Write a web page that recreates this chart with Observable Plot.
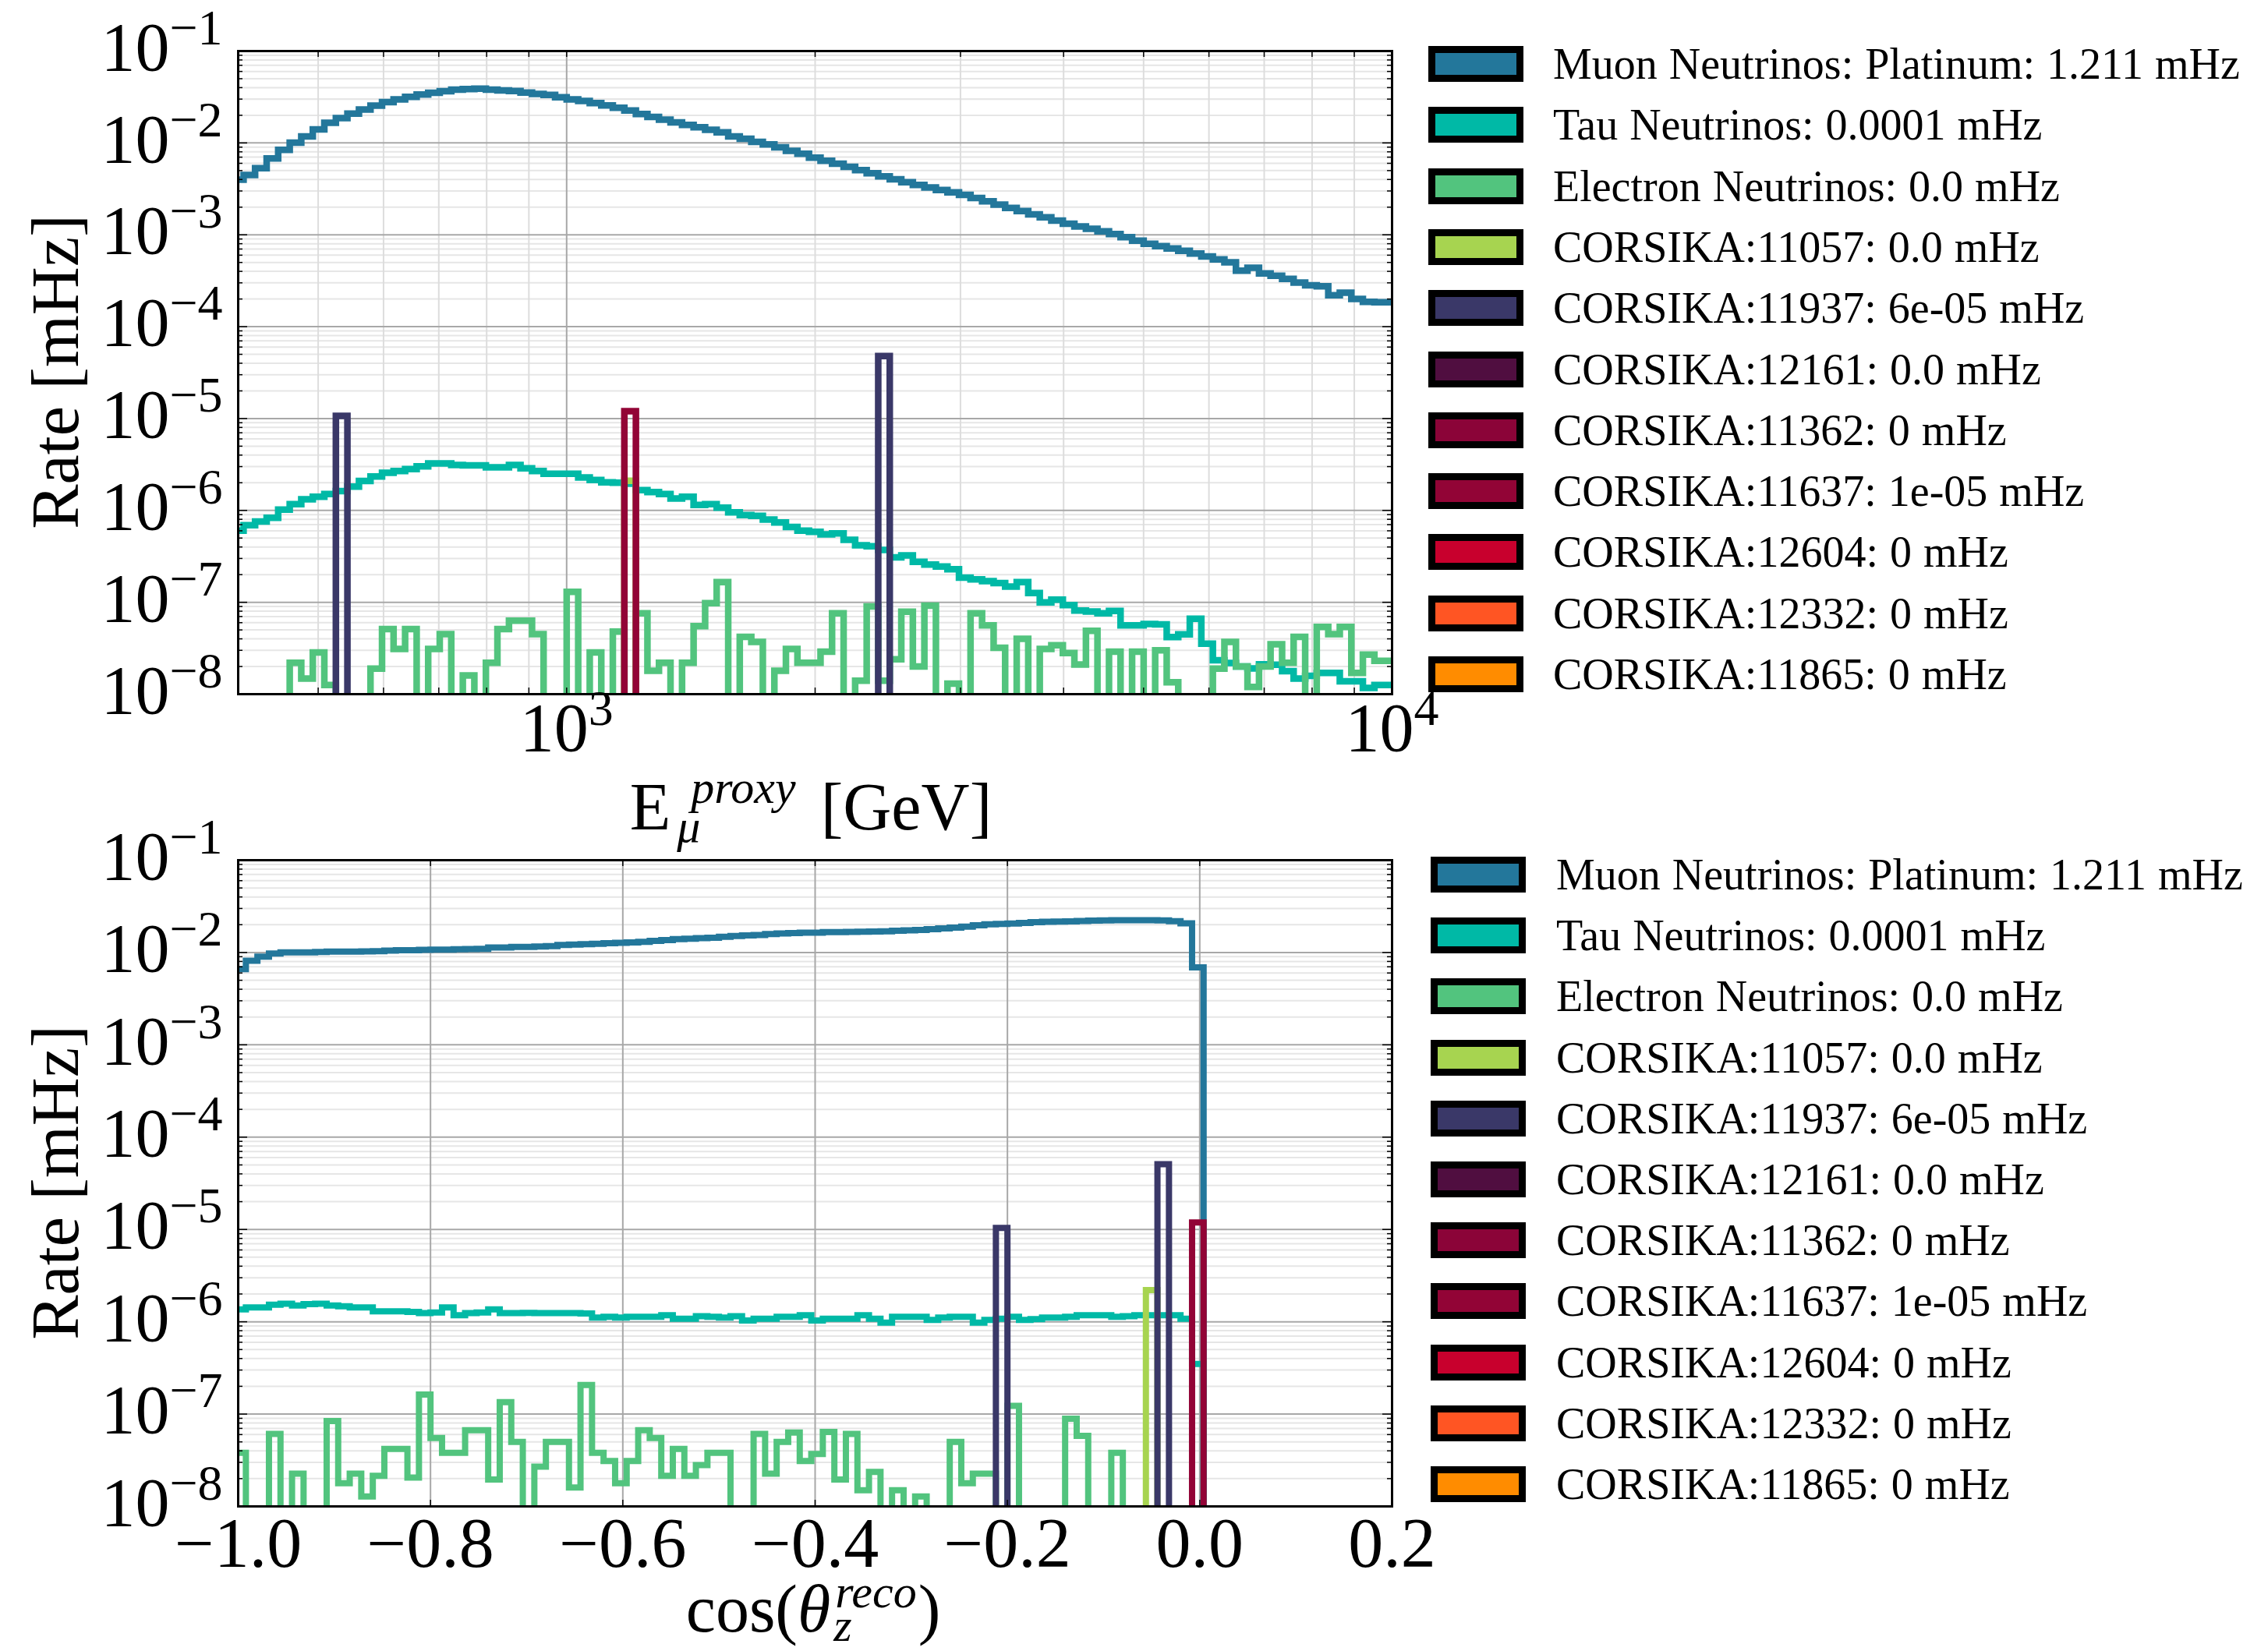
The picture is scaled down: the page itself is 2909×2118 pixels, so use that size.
<!DOCTYPE html>
<html>
<head>
<meta charset="utf-8">
<script src="https://cdn.jsdelivr.net/npm/d3@7"></script>
<script src="https://cdn.jsdelivr.net/npm/@observablehq/plot@0.6"></script>
<style>
  html, body { margin: 0; padding: 0; background: #fff; }
  #fig { position: relative; width: 2909px; height: 2118px; overflow: hidden; background: #fff;
         font-family: "Liberation Serif", "DejaVu Serif", serif; color: #000; }
  .legend { position: absolute; }
  .row { position: absolute; left: 0; height: 46px; display: flex; align-items: center; white-space: nowrap; }
  .sw { width: 122px; height: 46px; box-sizing: border-box; border: 9px solid #000; flex: none; }
  .lt { font-size: 56px; line-height: 1; word-spacing: 1px; }
</style>
</head>
<body>
<div id="fig"></div>
<script>
// ------------------------------------------------------------------ data
const SERIES_NAMES = ["Muon Neutrinos: Platinum", "Tau Neutrinos", "Electron Neutrinos",
  "CORSIKA:11057", "CORSIKA:11937", "CORSIKA:12161", "CORSIKA:11362", "CORSIKA:11637",
  "CORSIKA:12604", "CORSIKA:12332", "CORSIKA:11865"];
const SERIES_RATES = ["1.211 mHz", "0.0001 mHz", "0.0 mHz", "0.0 mHz", "6e-05 mHz", "0.0 mHz",
  "0 mHz", "1e-05 mHz", "0 mHz", "0 mHz", "0 mHz"];
const SERIES_COLORS = ["#23779b", "#00b9a6", "#52c47e", "#a7d450", "#3a3868", "#500e40",
  "#8b0438", "#920436", "#c8002d", "#ff5523", "#ff8c00"];

const RATE_DOMAIN = [1e-8, 1e-1];
const RATE_TICK_EXP = [-8, -7, -6, -5, -4, -3, -2, -1];

// Energy panel (log-spaced bins)
const E_DOMAIN = [400, 10000];
const E_BIN_LOG0 = 2.5946;
const E_BIN_DLOG = 0.01398;
const E_TICK_EXP = [3, 4];
const E_GRID_MAJOR = [1000];
const E_GRID_MINOR = [500, 600, 700, 800, 900, 2000, 3000, 4000, 5000, 6000, 7000, 8000, 9000];

const MUON_E = [
  3.98e-3, 4.47e-3, 5.31e-3, 6.79e-3, 8.39e-3, 1.007e-2, 1.175e-2, 1.403e-2, 1.656e-2, 1.866e-2,
  2.084e-2, 2.307e-2, 2.547e-2, 2.780e-2, 2.979e-2, 3.177e-2, 3.365e-2, 3.516e-2, 3.656e-2, 3.802e-2,
  3.864e-2, 3.890e-2, 3.802e-2, 3.733e-2, 3.681e-2, 3.540e-2, 3.420e-2, 3.327e-2, 3.148e-2, 2.985e-2,
  2.858e-2, 2.716e-2, 2.559e-2, 2.410e-2, 2.249e-2, 2.061e-2, 1.919e-2, 1.795e-2, 1.675e-2, 1.574e-2,
  1.479e-2, 1.393e-2, 1.303e-2, 1.175e-2, 1.109e-2, 1.026e-2, 9.64e-3, 8.97e-3, 8.22e-3, 7.64e-3,
  6.92e-3, 6.40e-3, 5.93e-3, 5.50e-3, 5.06e-3, 4.67e-3, 4.32e-3, 4.02e-3, 3.74e-3, 3.49e-3,
  3.27e-3, 3.08e-3, 2.90e-3, 2.72e-3, 2.51e-3, 2.31e-3, 2.13e-3, 1.96e-3, 1.81e-3, 1.67e-3,
  1.55e-3, 1.43e-3, 1.32e-3, 1.23e-3, 1.16e-3, 1.09e-3, 1.02e-3, 9.44e-4, 8.65e-4, 8.00e-4,
  7.53e-4, 7.10e-4, 6.68e-4, 6.24e-4, 5.81e-4, 5.41e-4, 5.01e-4, 4.07e-4, 4.37e-4, 3.80e-4,
  3.58e-4, 3.31e-4, 3.02e-4, 2.82e-4, 2.75e-4, 2.20e-4, 2.34e-4, 2.00e-4, 1.86e-4, 1.84e-4,
  1.84e-4];
const TAU_E = [
  6.03e-7, 6.92e-7, 7.59e-7, 8.32e-7, 1.02e-6, 1.17e-6, 1.32e-6, 1.41e-6, 1.51e-6, 1.62e-6,
  1.82e-6, 2.09e-6, 2.34e-6, 2.57e-6, 2.69e-6, 2.82e-6, 3.02e-6, 3.24e-6, 3.24e-6, 3.13e-6,
  3.09e-6, 3.09e-6, 2.95e-6, 2.95e-6, 3.13e-6, 2.88e-6, 2.69e-6, 2.51e-6, 2.51e-6, 2.51e-6,
  2.29e-6, 2.14e-6, 2.02e-6, 2.00e-6, 1.95e-6, 1.66e-6, 1.58e-6, 1.51e-6, 1.35e-6, 1.41e-6,
  1.15e-6, 1.17e-6, 1.07e-6, 9.55e-7, 8.91e-7, 8.71e-7, 7.94e-7, 7.41e-7, 6.61e-7, 6.03e-7,
  5.85e-7, 5.50e-7, 5.62e-7, 4.79e-7, 4.17e-7, 4.07e-7, 3.72e-7, 3.09e-7, 3.24e-7, 2.75e-7,
  2.57e-7, 2.45e-7, 2.29e-7, 1.86e-7, 1.78e-7, 1.70e-7, 1.62e-7, 1.48e-7, 1.66e-7, 1.26e-7,
  1.00e-7, 1.07e-7, 9.33e-8, 8.13e-8, 7.94e-8, 7.59e-8, 8.05e-8, 5.62e-8, 5.62e-8, 5.81e-8,
  5.75e-8, 4.19e-8, 4.47e-8, 6.61e-8, 3.55e-8, 2.34e-8, 2.19e-8, 2.00e-8, 1.91e-8, 2.11e-8,
  2.09e-8, 1.78e-8, 1.48e-8, 1.58e-8, 1.70e-8, 1.70e-8, 1.38e-8, 1.38e-8, 1.17e-8, 1.26e-8,
  1.26e-8];
const ELEC_E = [
  0, 0, 0, 0, 0, 2.2e-8, 1.48e-8, 2.84e-8, 1.26e-8, 0,
  0, 0, 1.9e-8, 5.1e-8, 3.1e-8, 5.1e-8, 0, 3.1e-8, 4.5e-8, 0,
  1.6e-8, 0, 2.2e-8, 5.1e-8, 6.3e-8, 6.3e-8, 4.5e-8, 0, 0, 1.3e-7,
  0, 2.84e-8, 0, 4.8e-8, 0, 7.6e-8, 1.8e-8, 2.2e-8, 0, 2.2e-8,
  5.5e-8, 9.8e-8, 1.66e-7, 0, 4.2e-8, 3.7e-8, 0, 1.8e-8, 3.1e-8, 2.2e-8,
  2.2e-8, 2.9e-8, 7.6e-8, 0, 1.4e-8, 9.0e-8, 1.4e-8, 2.4e-8, 7.9e-8, 2.0e-8,
  9.2e-8, 0, 1.3e-8, 0, 7.6e-8, 5.6e-8, 3.2e-8, 0, 4.0e-8, 0,
  3.1e-8, 3.4e-8, 2.8e-8, 2.1e-8, 4.9e-8, 0, 2.9e-8, 0, 2.9e-8, 0,
  3.0e-8, 1.35e-8, 0, 0, 0, 1.9e-8, 3.7e-8, 2.0e-8, 1.2e-8, 2.0e-8,
  3.5e-8, 2.2e-8, 4.2e-8, 0, 5.4e-8, 4.5e-8, 5.4e-8, 1.7e-8, 2.7e-8, 2.3e-8,
  2.3e-8];
const C11057_E_BINS = [34], C11057_E_VALS = [2.1e-6];
const C11937_E_BINS = [9, 56], C11937_E_VALS = [1.07e-5, 4.8e-5];
const C11637_E_BINS = [34], C11637_E_VALS = [1.2e-5];

// Zenith panel (linear bins)
const COS_DOMAIN = [-1, 0.2];
const COS_BIN0 = -1.004;
const COS_DBIN = 0.012;
const COS_TICKS = [-1.0, -0.8, -0.6, -0.4, -0.2, 0.0, 0.2];
const COS_GRID = [-0.8, -0.6, -0.4, -0.2, 0.0];

const MUON_C = [
  6.61e-3, 8.13e-3, 9.02e-3, 9.77e-3, 1.005e-2, 1.005e-2, 1.005e-2, 1.012e-2, 1.023e-2, 1.023e-2,
  1.023e-2, 1.028e-2, 1.035e-2, 1.047e-2, 1.059e-2, 1.059e-2, 1.067e-2, 1.072e-2, 1.072e-2, 1.084e-2,
  1.091e-2, 1.096e-2, 1.135e-2, 1.135e-2, 1.148e-2, 1.148e-2, 1.161e-2, 1.175e-2, 1.208e-2, 1.216e-2,
  1.230e-2, 1.245e-2, 1.259e-2, 1.274e-2, 1.288e-2, 1.303e-2, 1.334e-2, 1.365e-2, 1.396e-2, 1.413e-2,
  1.429e-2, 1.445e-2, 1.479e-2, 1.507e-2, 1.531e-2, 1.549e-2, 1.585e-2, 1.607e-2, 1.622e-2, 1.641e-2,
  1.641e-2, 1.660e-2, 1.660e-2, 1.671e-2, 1.679e-2, 1.687e-2, 1.698e-2, 1.718e-2, 1.738e-2, 1.758e-2,
  1.786e-2, 1.828e-2, 1.862e-2, 1.905e-2, 1.972e-2, 2.018e-2, 2.042e-2, 2.065e-2, 2.089e-2, 2.128e-2,
  2.148e-2, 2.163e-2, 2.178e-2, 2.198e-2, 2.213e-2, 2.228e-2, 2.239e-2, 2.239e-2, 2.239e-2, 2.239e-2,
  2.228e-2, 2.188e-2, 2.075e-2, 6.89e-3];
const TAU_C = [
  1.36e-6, 1.43e-6, 1.43e-6, 1.53e-6, 1.57e-6, 1.50e-6, 1.55e-6, 1.57e-6, 1.50e-6, 1.47e-6,
  1.43e-6, 1.43e-6, 1.30e-6, 1.30e-6, 1.30e-6, 1.28e-6, 1.24e-6, 1.26e-6, 1.43e-6, 1.18e-6,
  1.24e-6, 1.26e-6, 1.36e-6, 1.24e-6, 1.24e-6, 1.25e-6, 1.24e-6, 1.24e-6, 1.24e-6, 1.24e-6,
  1.23e-6, 1.11e-6, 1.13e-6, 1.11e-6, 1.13e-6, 1.13e-6, 1.13e-6, 1.18e-6, 1.08e-6, 1.08e-6,
  1.15e-6, 1.13e-6, 1.11e-6, 1.15e-6, 1.03e-6, 1.08e-6, 1.08e-6, 1.13e-6, 1.13e-6, 1.18e-6,
  1.03e-6, 1.08e-6, 1.08e-6, 1.08e-6, 1.18e-6, 1.08e-6, 9.8e-7, 1.13e-6, 1.13e-6, 1.13e-6,
  1.05e-6, 1.11e-6, 1.13e-6, 1.13e-6, 9.8e-7, 1.05e-6, 1.08e-6, 1.13e-6, 1.05e-6, 1.07e-6,
  1.11e-6, 1.11e-6, 1.13e-6, 1.18e-6, 1.18e-6, 1.18e-6, 1.13e-6, 1.15e-6, 1.18e-6, 1.18e-6,
  1.18e-6, 1.18e-6, 1.08e-6, 3.5e-7];
const ELEC_C = [
  3.8e-8, 0, 0, 6.1e-8, 0, 2.26e-8, 0, 0, 8.4e-8, 1.78e-8,
  2.26e-8, 1.28e-8, 2.15e-8, 4.2e-8, 4.2e-8, 2.05e-8, 1.63e-7, 5.5e-8, 3.8e-8, 3.8e-8,
  6.7e-8, 6.7e-8, 1.96e-8, 1.35e-7, 5.0e-8, 0, 2.7e-8, 5.0e-8, 5.0e-8, 1.6e-8,
  2.07e-7, 3.8e-8, 3.1e-8, 1.78e-8, 3.1e-8, 6.7e-8, 5.5e-8, 2.15e-8, 4.2e-8, 2.15e-8,
  2.8e-8, 3.8e-8, 3.8e-8, 0, 0, 6.1e-8, 2.26e-8, 5.0e-8, 6.3e-8, 3.1e-8,
  3.7e-8, 6.4e-8, 1.96e-8, 6.1e-8, 1.5e-8, 2.36e-8, 0, 1.5e-8, 0, 1.28e-8,
  0, 0, 5.0e-8, 1.78e-8, 2.26e-8, 2.26e-8, 0, 1.23e-7, 0, 0,
  0, 0, 8.9e-8, 5.8e-8, 0, 0, 3.8e-8, 0, 0, 0,
  0, 0, 0, 0];
const C11057_C_BINS = [79], C11057_C_VALS = [2.2e-6];
const C11937_C_BINS = [66, 80], C11937_C_VALS = [1.04e-5, 5.1e-5];
const C11637_C_BINS = [83], C11637_C_VALS = [1.19e-5];

// ------------------------------------------------------------------ helpers
const FONT = "'Liberation Serif', 'DejaVu Serif', serif";
const FLOOR = 1e-12; // empty bins drop far below the axis (clipped)
const W = 1800, ML = 305, MR = 15, MT = 65;
const PW = W - ML - MR;

function stepLine(edges, vals) {
  const pts = [[edges[0], FLOOR]];
  vals.forEach((v, i) => { const y = v > 0 ? v : FLOOR; pts.push([edges[i], y], [edges[i + 1], y]); });
  pts.push([edges[vals.length], FLOOR]);
  return pts;
}
function spikeLines(edges, bins, vals) {
  return bins.map((b, i) => [[edges[b], FLOOR], [edges[b], vals[i]], [edges[b + 1], vals[i]], [edges[b + 1], FLOOR]]);
}
const yMajor = RATE_TICK_EXP.map(e => 10 ** e);
const yMinor = [];
for (let e = -8; e <= -2; e++) for (let m = 2; m <= 9; m++) yMinor.push(m * 10 ** e);

function lineMark(pts, color, sw) {
  return Plot.line(pts, {x: d => d[0], y: d => d[1], stroke: color, strokeWidth: sw,
    strokeLinejoin: "miter", strokeMiterlimit: 4, strokeLinecap: "butt", clip: true});
}

function buildPanel(cfg) {
  const PH = cfg.height - MT - cfg.marginBottom;
  const marks = [];
  marks.push(Plot.ruleY(yMinor, {y: d => d, stroke: "#e6e6e6", strokeWidth: 2}));
  if (cfg.xGridMinor) marks.push(Plot.ruleX(cfg.xGridMinor, {x: d => d, stroke: "#dddddd", strokeWidth: 2}));
  marks.push(Plot.ruleY(yMajor, {y: d => d, stroke: "#a8a8a8", strokeWidth: 2}));
  marks.push(Plot.ruleX(cfg.xGridMajor, {x: d => d, stroke: "#a8a8a8", strokeWidth: 2}));
  cfg.lines.forEach(l => marks.push(lineMark(l.pts, l.color, cfg.sw)));
  // inward frame ticks
  const tk = {stroke: "#000", strokeWidth: 1.5};
  marks.push(Plot.tickY(yMajor, {y: d => d, insetRight: PW - 12, ...tk}));
  marks.push(Plot.tickY(yMajor, {y: d => d, insetLeft: PW - 12, ...tk}));
  marks.push(Plot.tickY(yMinor, {y: d => d, insetRight: PW - 6, ...tk}));
  marks.push(Plot.tickY(yMinor, {y: d => d, insetLeft: PW - 6, ...tk}));
  const xt = cfg.xGridMajor.concat(cfg.xGridMinor || []);
  marks.push(Plot.tickX(xt, {x: d => d, insetBottom: PH - 8, ...tk}));
  marks.push(Plot.tickX(xt, {x: d => d, insetTop: PH - 8, ...tk}));
  marks.push(Plot.frame({stroke: "#000", strokeWidth: 3}));
  // tick labels
  marks.push(Plot.text(RATE_TICK_EXP, {x: cfg.xMin, y: e => 10 ** e, text: e => "10^\u2212" + (-e),
    textAnchor: "end", dx: -20, dy: -4, fontSize: 88}));
  marks.push(Plot.text(cfg.xTicks, {x: cfg.xTickPos, y: RATE_DOMAIN[0], text: cfg.xTickText,
    textAnchor: "middle", dy: cfg.xTickDy, fontSize: cfg.xTickSize}));
  const svg = Plot.plot({
    width: W, height: cfg.height, marginLeft: ML, marginRight: MR, marginTop: MT, marginBottom: cfg.marginBottom,
    x: {type: cfg.xType, domain: cfg.xDomain, axis: null},
    y: {type: "log", domain: RATE_DOMAIN, axis: null},
    style: {fontFamily: FONT, background: "transparent", overflow: "visible"},
    marks
  });
  // superscripts in tick labels ("10^e")
  svg.querySelectorAll("text").forEach(t => {
    const s = t.textContent;
    if (!s.includes("^")) return;
    const [base, exp] = s.split("^");
    while (t.firstChild) t.removeChild(t.firstChild);
    t.appendChild(document.createTextNode(base));
    const ts = document.createElementNS("http://www.w3.org/2000/svg", "tspan");
    ts.setAttribute("dy", "-33");
    ts.setAttribute("font-size", "64");
    ts.textContent = exp;
    t.appendChild(ts);
  });
  svg.style.position = "absolute";
  svg.style.left = "0px";
  svg.style.top = cfg.top + "px";
  return svg;
}

// ------------------------------------------------------------------ build
const fig = document.getElementById("fig");

const eEdges = Array.from({length: MUON_E.length + 1}, (_, i) => 10 ** (E_BIN_LOG0 + i * E_BIN_DLOG));
const cEdges = Array.from({length: 101}, (_, i) => COS_BIN0 + i * COS_DBIN);

const topLines = [
  {pts: stepLine(eEdges, MUON_E), color: SERIES_COLORS[0]},
  {pts: stepLine(eEdges, TAU_E), color: SERIES_COLORS[1]},
  {pts: stepLine(eEdges, ELEC_E), color: SERIES_COLORS[2]},
  ...spikeLines(eEdges, C11057_E_BINS, C11057_E_VALS).map(p => ({pts: p, color: SERIES_COLORS[3]})),
  ...spikeLines(eEdges, C11937_E_BINS, C11937_E_VALS).map(p => ({pts: p, color: SERIES_COLORS[4]})),
  ...spikeLines(eEdges, C11637_E_BINS, C11637_E_VALS).map(p => ({pts: p, color: SERIES_COLORS[7]}))
];
fig.appendChild(buildPanel({
  top: 0, height: 1000, marginBottom: 110, sw: 8.5,
  xType: "log", xDomain: E_DOMAIN, xMin: E_DOMAIN[0],
  xGridMajor: E_GRID_MAJOR, xGridMinor: E_GRID_MINOR,
  xTicks: E_TICK_EXP, xTickPos: e => 10 ** e, xTickText: e => "10^" + e, xTickDy: 44, xTickSize: 88,
  lines: topLines
}));

const botLines = [
  {pts: stepLine(cEdges, MUON_C), color: SERIES_COLORS[0]},
  {pts: stepLine(cEdges, TAU_C), color: SERIES_COLORS[1]},
  {pts: stepLine(cEdges, ELEC_C), color: SERIES_COLORS[2]},
  ...spikeLines(cEdges, C11057_C_BINS, C11057_C_VALS).map(p => ({pts: p, color: SERIES_COLORS[3]})),
  ...spikeLines(cEdges, C11937_C_BINS, C11937_C_VALS).map(p => ({pts: p, color: SERIES_COLORS[4]})),
  ...spikeLines(cEdges, C11637_C_BINS, C11637_C_VALS).map(p => ({pts: p, color: SERIES_COLORS[7]}))
];
fig.appendChild(buildPanel({
  top: 1038, height: 1080, marginBottom: 186, sw: 8,
  xType: "linear", xDomain: COS_DOMAIN, xMin: COS_DOMAIN[0],
  xGridMajor: COS_GRID, xGridMinor: null,
  xTicks: COS_TICKS, xTickPos: d => d, xTickText: d => d.toFixed(1).replace("-", "\u2212"), xTickDy: 49, xTickSize: 90,
  lines: botLines
}));

// ------------------------------------------------------------------ axis titles (overlay)
const ov = d3.select(fig).append("svg")
  .attr("width", 2909).attr("height", 2118)
  .style("position", "absolute").style("left", "0px").style("top", "0px")
  .style("pointer-events", "none")
  .attr("font-family", FONT).attr("fill", "#000");

function measure(str, size, italic) {
  const t = ov.append("text").attr("font-size", size).attr("font-style", italic ? "italic" : null).text(str);
  const w = t.node().getComputedTextLength();
  t.remove();
  return w;
}
// one text element built from pieces: [str, fontSize, italic, dx, dy]
function richText(x, y, pieces) {
  const t = ov.append("text").attr("x", x).attr("y", y);
  pieces.forEach(([str, size, italic, dx, dy]) => {
    t.append("tspan").attr("font-size", size).attr("font-style", italic ? "italic" : "normal")
      .attr("dx", dx).attr("dy", dy).text(str);
  });
}

[477, 1517].forEach(cy => {
  ov.append("text").attr("transform", `translate(100,${cy}) rotate(-90)`)
    .attr("text-anchor", "middle").attr("font-size", 86).text("Rate [mHz]");
});

// E_mu^proxy [GeV]
(function () {
  const S = 86, s = 60, base = 1064;
  const wE = measure("E", S), wP = measure("proxy", s, true), wM = measure("\u03bc", s, true), wG = measure("[GeV]", S);
  const supX = 26, subX = 8, gap = 32;
  const total = wE + supX + wP + gap + wG;
  const x0 = 1040 - total / 2;
  richText(x0, base, [
    ["E", S, false, 0, 0],
    ["proxy", s, true, supX, -34],
    ["\u03bc", s, true, -(supX + wP - subX), 50],
    ["[GeV]", S, false, (supX + wP + gap) - (subX + wM), -16]
  ]);
})();

// cos(theta_z^reco)
(function () {
  const S = 86, s = 60, base = 2093;
  const wC = measure("cos(", S), wT = measure("\u03b8", S, true), wR = measure("reco", s, true),
        wZ = measure("z", s, true), wP = measure(")", S);
  const total = wC + wT + 6 + wR + 2 + wP;
  const x0 = 1043 - total / 2;
  richText(x0, base, [
    ["cos(", S, false, 0, 0],
    ["\u03b8", S, true, 0, 0],
    ["reco", s, true, 6, -31],
    ["z", s, true, -(wR + 2), 43],
    [")", S, false, wR + 4 - wZ, -12]
  ]);
})();

// ------------------------------------------------------------------ legends
function legend(left, firstCenter, step, textGap) {
  const div = document.createElement("div");
  div.className = "legend";
  div.style.left = left + "px";
  div.style.top = "0px";
  SERIES_NAMES.forEach((name, i) => {
    const row = document.createElement("div");
    row.className = "row";
    row.style.top = (firstCenter + i * step - 23) + "px";
    const sw = document.createElement("div");
    sw.className = "sw";
    sw.style.background = SERIES_COLORS[i];
    const tx = document.createElement("span");
    tx.className = "lt";
    tx.style.marginLeft = textGap + "px";
    tx.textContent = name + ": " + SERIES_RATES[i];
    row.appendChild(sw);
    row.appendChild(tx);
    div.appendChild(row);
  });
  fig.appendChild(div);
}
legend(1832, 82, 78.3, 38);
legend(1835, 1122, 78.2, 39);
</script>
</body>
</html>
